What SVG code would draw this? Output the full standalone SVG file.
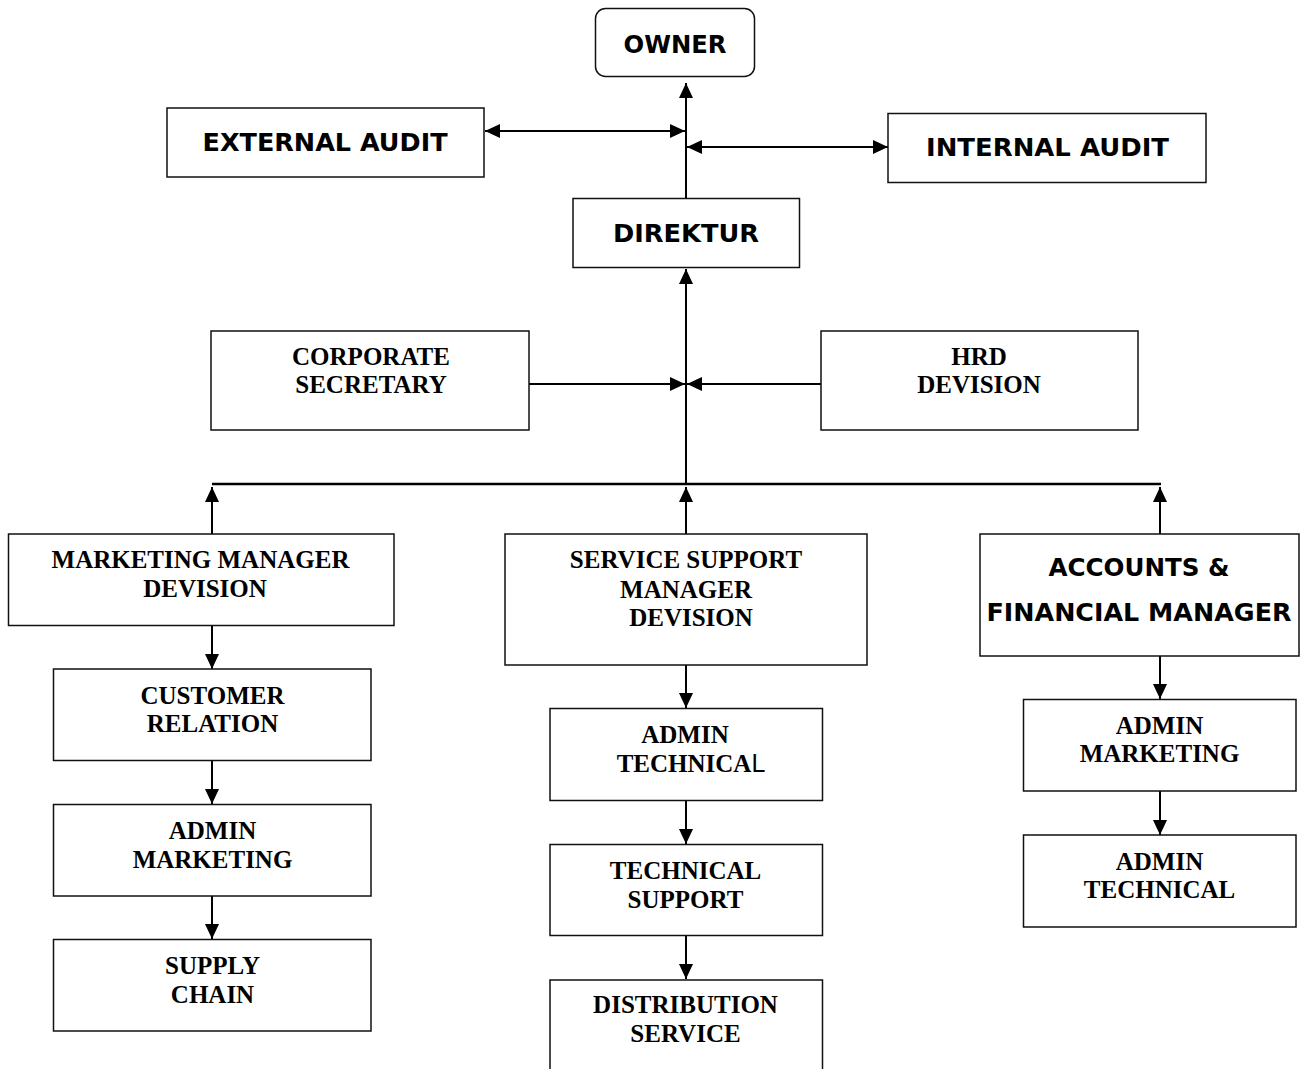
<svg xmlns="http://www.w3.org/2000/svg" width="1306" height="1069" viewBox="0 0 1306 1069">
<style>
.box{fill:#fff;stroke:#111;stroke-width:1.5}
.sans{font-family:"DejaVu Sans","Liberation Sans",sans-serif;font-weight:bold;font-size:24px;fill:#000;text-anchor:middle}
.serif{font-family:"Liberation Serif","Times New Roman",serif;font-weight:bold;font-size:25px;fill:#000;text-anchor:middle}
.ln{stroke:#000;stroke-width:2;fill:none}
.bus{stroke:#000;stroke-width:2.5;fill:none}
</style>
<defs>
<marker id="ah" viewBox="0 0 15 14" refX="15" refY="7" markerWidth="15" markerHeight="14" markerUnits="userSpaceOnUse" orient="auto-start-reverse">
<path d="M0,0 L15,7 L0,14 Z" fill="#000"/>
</marker>
</defs>
<rect width="1306" height="1069" fill="#fff"/>

<g id="connectors">
<line class="ln" x1="686" y1="205" x2="686" y2="83" marker-end="url(#ah)"/>
<line class="ln" x1="485" y1="131" x2="685" y2="131" marker-start="url(#ah)" marker-end="url(#ah)"/>
<line class="ln" x1="687" y1="147" x2="888" y2="147" marker-start="url(#ah)" marker-end="url(#ah)"/>
<line class="ln" x1="686" y1="484" x2="686" y2="269" marker-end="url(#ah)"/>
<line class="ln" x1="529" y1="384" x2="685" y2="384" marker-end="url(#ah)"/>
<line class="ln" x1="821" y1="384" x2="687" y2="384" marker-end="url(#ah)"/>
<line class="bus" x1="212" y1="484" x2="1161" y2="484"/>
<line class="ln" x1="212" y1="534" x2="212" y2="487" marker-end="url(#ah)"/>
<line class="ln" x1="686" y1="534" x2="686" y2="487" marker-end="url(#ah)"/>
<line class="ln" x1="1160" y1="534" x2="1160" y2="487" marker-end="url(#ah)"/>
<line class="ln" x1="212" y1="626" x2="212" y2="669" marker-end="url(#ah)"/>
<line class="ln" x1="212" y1="761" x2="212" y2="804" marker-end="url(#ah)"/>
<line class="ln" x1="212" y1="896" x2="212" y2="939" marker-end="url(#ah)"/>
<line class="ln" x1="686" y1="665" x2="686" y2="708" marker-end="url(#ah)"/>
<line class="ln" x1="686" y1="801" x2="686" y2="844" marker-end="url(#ah)"/>
<line class="ln" x1="686" y1="936" x2="686" y2="979" marker-end="url(#ah)"/>
<line class="ln" x1="1160" y1="656" x2="1160" y2="699" marker-end="url(#ah)"/>
<line class="ln" x1="1160" y1="791" x2="1160" y2="835" marker-end="url(#ah)"/>
</g>

<g id="owner">
<rect class="box" x="595.5" y="8.5" width="159" height="68" rx="10" ry="10"/>
<text class="sans" x="675" y="53" textLength="103" lengthAdjust="spacingAndGlyphs">OWNER</text>
</g>
<g id="external-audit">
<rect class="box" x="167" y="108" width="317" height="69"/>
<text class="sans" x="325" y="151" textLength="245" lengthAdjust="spacingAndGlyphs">EXTERNAL AUDIT</text>
</g>
<g id="internal-audit">
<rect class="box" x="888" y="113.5" width="318" height="69"/>
<text class="sans" x="1047.5" y="156" textLength="243" lengthAdjust="spacingAndGlyphs">INTERNAL AUDIT</text>
</g>
<g id="direktur">
<rect class="box" x="573" y="198.5" width="226.5" height="69"/>
<text class="sans" x="686" y="242" textLength="146" lengthAdjust="spacingAndGlyphs">DIREKTUR</text>
</g>
<g id="corporate-secretary">
<rect class="box" x="211" y="331" width="318" height="99"/>
<text class="serif" x="371" y="365">CORPORATE</text>
<text class="serif" x="371" y="393">SECRETARY</text>
</g>
<g id="hrd-devision">
<rect class="box" x="821" y="331" width="317" height="99"/>
<text class="serif" x="979" y="365">HRD</text>
<text class="serif" x="979" y="393">DEVISION</text>
</g>
<g id="marketing-manager">
<rect class="box" x="8.5" y="534" width="385.5" height="91.5"/>
<text class="serif" x="200.5" y="567.5">MARKETING MANAGER</text>
<text class="serif" x="205" y="597">DEVISION</text>
</g>
<g id="service-support">
<rect class="box" x="505" y="534" width="362" height="131"/>
<text class="serif" x="686" y="568">SERVICE SUPPORT</text>
<text class="serif" x="686" y="597.5">MANAGER</text>
<text class="serif" x="691" y="626">DEVISION</text>
</g>
<g id="accounts-financial">
<rect class="box" x="980" y="534" width="319" height="122"/>
<text class="sans" x="1139" y="576" textLength="181" lengthAdjust="spacingAndGlyphs">ACCOUNTS &amp;</text>
<text class="sans" x="1139" y="620.5" textLength="305" lengthAdjust="spacingAndGlyphs">FINANCIAL MANAGER</text>
</g>
<g id="customer-relation">
<rect class="box" x="53.5" y="669" width="317.5" height="91.5"/>
<text class="serif" x="212.5" y="704">CUSTOMER</text>
<text class="serif" x="212.5" y="732">RELATION</text>
</g>
<g id="admin-marketing-left">
<rect class="box" x="53.5" y="804.5" width="317.5" height="91.5"/>
<text class="serif" x="212.5" y="839">ADMIN</text>
<text class="serif" x="212.5" y="868">MARKETING</text>
</g>
<g id="supply-chain">
<rect class="box" x="53.5" y="939.5" width="317.5" height="91.5"/>
<text class="serif" x="212.5" y="974">SUPPLY</text>
<text class="serif" x="212.5" y="1003">CHAIN</text>
</g>
<g id="admin-technical-mid">
<rect class="box" x="550" y="708.5" width="272.5" height="92"/>
<text class="serif" x="685" y="743">ADMIN</text>
<text class="serif" x="691" y="772">TECHNICA<tspan style="font-family:'Liberation Sans',Arial,sans-serif;font-weight:normal">L</tspan></text>
</g>
<g id="technical-support">
<rect class="box" x="550" y="844.5" width="272.5" height="91"/>
<text class="serif" x="685.5" y="879">TECHNICAL</text>
<text class="serif" x="685.5" y="907.5">SUPPORT</text>
</g>
<g id="distribution-service">
<rect class="box" x="550" y="980" width="272.5" height="100"/>
<text class="serif" x="685.5" y="1013">DISTRIBUTION</text>
<text class="serif" x="685.5" y="1041.5">SERVICE</text>
</g>
<g id="admin-marketing-right">
<rect class="box" x="1023.5" y="699.5" width="272.5" height="91.5"/>
<text class="serif" x="1159.5" y="734">ADMIN</text>
<text class="serif" x="1159.5" y="762">MARKETING</text>
</g>
<g id="admin-technical-right">
<rect class="box" x="1023.5" y="835" width="272.5" height="92"/>
<text class="serif" x="1159.5" y="870">ADMIN</text>
<text class="serif" x="1159.5" y="897.5">TECHNICAL</text>
</g>
</svg>
